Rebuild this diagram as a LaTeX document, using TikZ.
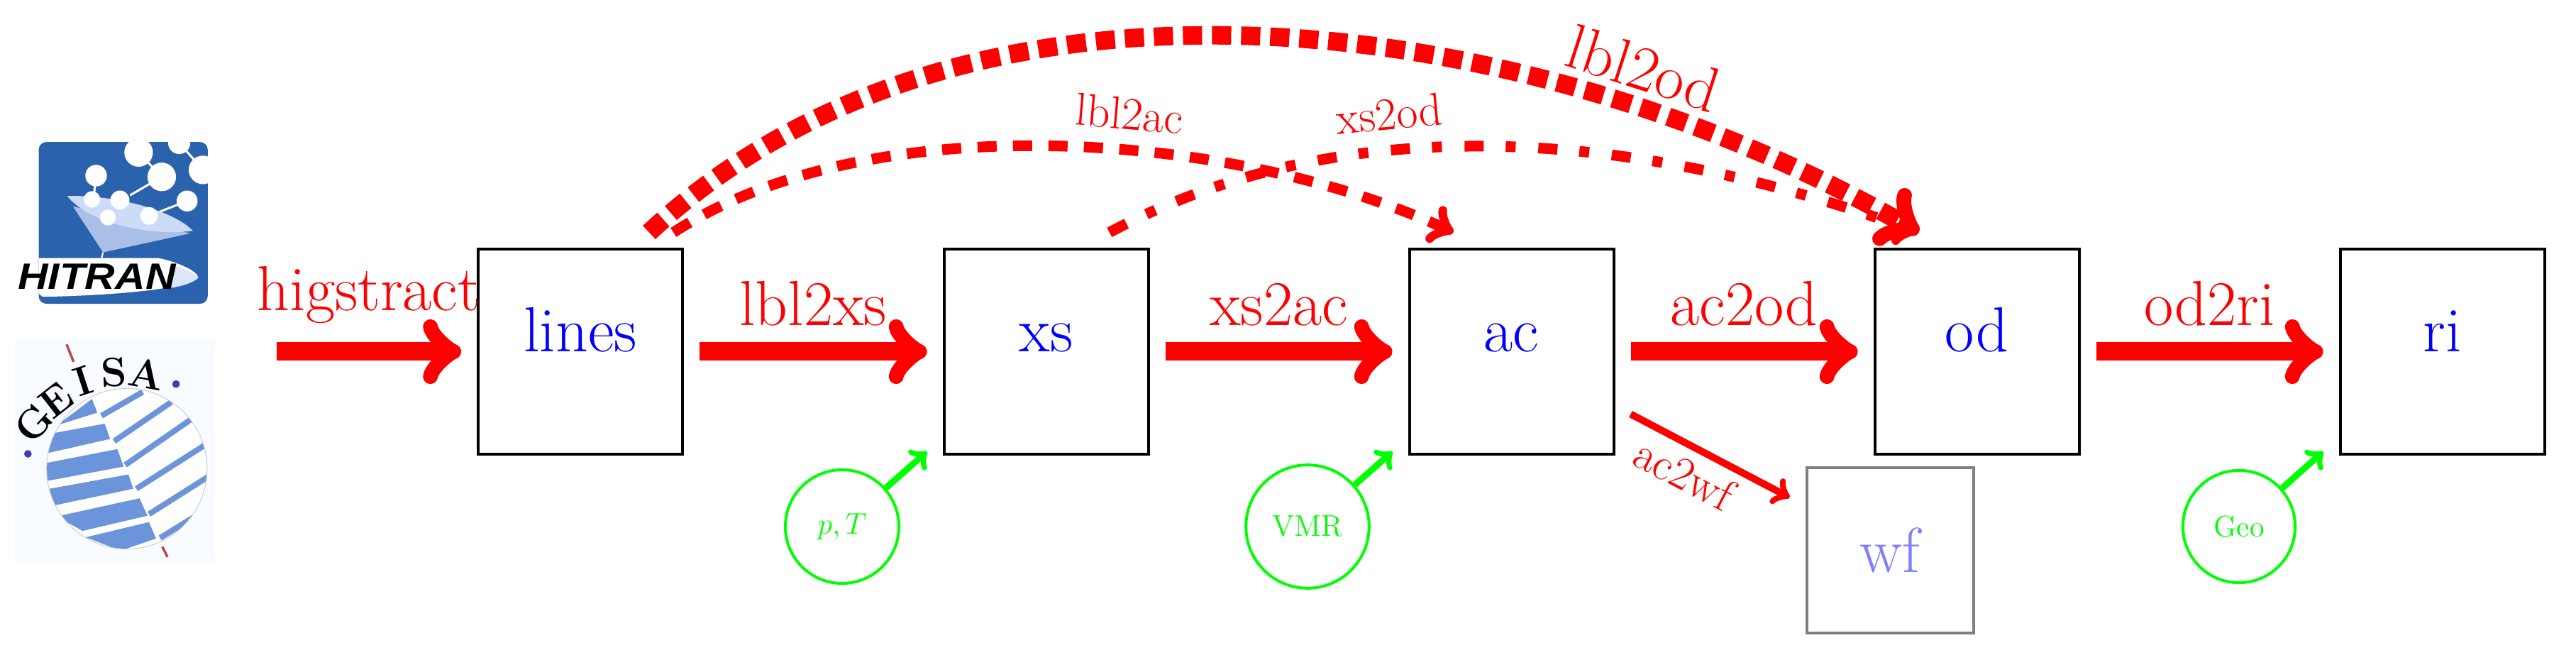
\documentclass[tikz,border=0pt]{standalone}
\usepackage{fontspec}
\newfontfamily\logofont{Liberation Sans}
\newcommand{\bigtxt}{\fontsize{25.5}{27}\selectfont}
\newcommand{\midtxt}{\fontsize{18.5}{20}\selectfont}
\newcommand{\smalltxt}{\fontsize{12}{14}\selectfont}
\definecolor{hitblue}{HTML}{2B62AE}
\definecolor{hitpale}{HTML}{CCDBF8}
\definecolor{hitcone}{HTML}{A9BFE8}
\definecolor{geisabg}{HTML}{F8FBFF}
\definecolor{geisablue}{HTML}{6C94DA}
\tikzset{
  stage/.style={draw, line width=0.04cm, minimum size=2.88cm, outer sep=0.24cm, text=blue, font=\bigtxt, text height=0.5cm, text depth=0.5cm},
  extra/.style={draw=gray, line width=0.04cm, minimum width=2.35cm, minimum height=2.33cm, outer sep=0.24cm, text=blue!50, font=\bigtxt},
  input/.style={draw=green, circle, line width=0.04cm, inner sep=8.4pt, text=green, font=\smalltxt},
  feed/.style={->, green, line width=0.09cm},
  flow/.style={->, red, line width=0.26cm},
  skip/.style={->, red, line width=0.15cm},
  flowtxt/.style={text=red, font=\bigtxt, text depth=0pt},
  skiptxt/.style={text=red, font=\midtxt, text depth=0pt}
}
\begin{document}
\begin{tikzpicture}
      \useasboundingbox (0, 0) rectangle (36.31, 9.29);
      % HITRAN logo
      \begin{scope}[shift={(0, 7.79)}, x=0.004464cm, y=-0.004464cm]
        \fill[white] (47, 105) rectangle (678, 625);
        \fill[hitblue, rounded corners=0.11cm] (122, 112) rectangle (655, 622);
        \begin{scope}
          \clip (122, 112) rectangle (655, 622);
          \foreach \cx/\cy/\cr in {437/145/45, 565/115/35, 640/200/45, 303/218/34, 510/222/45, 590/298/33}
            \fill[white] (\cx, \cy) circle (\cr);
        \end{scope}
        \draw[white, line width=0.03cm] (303, 218) -- (295, 290) (510, 222) -- (410, 280) (470, 345) -- (590, 298) (437, 145) -- (510, 222) (565, 115) -- (640, 200);
        \fill[hitcone] (230, 315) -- (325, 460) -- (600, 400) -- cycle;
        \fill[hitpale] (212, 282) .. controls (400, 280) and (560, 340) .. (608, 392) .. controls (480, 410) and (280, 370) .. (212, 282);
        \draw[white, line width=0.02cm] (325, 460) -- (320, 480);
        \foreach \cx/\cy/\cr in {290/293/26, 378/295/30, 470/345/28, 340/350/25}
          \fill[white] (\cx, \cy) circle (\cr);
        \fill[white] (122, 478) -- (500, 478) .. controls (560, 490) and (625, 520) .. (625, 540) .. controls (600, 570) and (400, 595) .. (135, 600) -- (122, 590) -- cycle;
        \fill[hitpale!70] (550, 503) .. controls (590, 515) and (625, 530) .. (625, 540) .. controls (610, 555) and (580, 565) .. (540, 572) -- cycle;
        \node[xscale=1.14, text=black, inner sep=0pt, font=\logofont\bfseries\itshape\fontsize{14.7}{16}\selectfont] (hitran) at (305, 537) {HITRAN};
      \end{scope}
      % GEISA logo
      \begin{scope}[shift={(0, 7.79)}, x=0.004464cm, y=-0.004464cm]
        \fill[geisabg] (47, 732) rectangle (678, 1445);
        \draw[fill=white, draw=black!20, line width=0.01cm] (400, 1142) circle (253);
        \begin{scope}
          \clip (400, 1142) circle (252);
          % wide bands left of the seam
          \fill[geisablue] (180, 1005) -- (290, 922) -- (307, 965) -- cycle;
          \fill[geisablue] (140, 1035) -- (330, 1000) -- (347, 1048) -- (140, 1095) -- cycle;
          \fill[geisablue] (140, 1125) -- (370, 1080) -- (390, 1135) -- (140, 1182) -- cycle;
          \fill[geisablue] (140, 1208) -- (405, 1160) -- (420, 1205) -- (150, 1262) -- cycle;
          \fill[geisablue] (180, 1292) -- (440, 1235) -- (465, 1290) -- (260, 1338) -- cycle;
          \fill[geisablue] (270, 1358) -- (470, 1310) -- (492, 1362) -- (380, 1400) -- cycle;
          % narrow bands right of it
          \foreach \ax/\ay/\bx/\by in {320/975/450/900, 360/1055/540/932, 395/1130/600/988, 430/1205/645/1068, 470/1285/655/1168, 505/1360/610/1295}
            \draw[geisablue, line width=0.08cm] (\ax, \ay) -- (\bx, \by);
        \end{scope}
        \foreach \lx/\ly/\lr/\lt in {108/998/48/G, 178/926/38/E, 262/866/18/I, 360/838/3/S, 462/842/-10/A}
          \node[rotate=\lr, text=black, inner sep=0pt, font=\bfseries\fontsize{16.5}{18}\selectfont] (geisa\lt) at (\lx, \ly) {\lt};
        \fill[black!20!blue!50!gray] (555, 875) circle (12) (88, 1095) circle (12);
        \draw[red!60!black!70!white, line width=0.035cm] (210, 750) -- (232, 805) (512, 1388) -- (528, 1420);
      \end{scope}
      % Stages
      \node[stage] (lines) at (8.18, 4.335) {lines};
      \node[stage] (xs) at (14.745, 4.335) {xs};
      \node[stage] (ac) at (21.305, 4.335) {ac};
      \node[stage] (od) at (27.865, 4.335) {od};
      \node[stage] (ri) at (34.425, 4.335) {ri};
      \node[extra] (wf) at (26.64, 1.54) {wf};
      \coordinate (db) at (3.90, 4.335);
      % Inputs
      \node[input] (pT) at (11.87, 1.87) {$p,T$};
      \node[input, inner sep=7.6pt] (VMR) at (18.43, 1.87) {VMR};
      \node[input] (Geo) at (31.56, 1.87) {Geo};
      \draw[feed] (pT) -- (xs.220);
      \draw[feed] (VMR) -- (ac.220);
      \draw[feed] (Geo) -- (ri.220);
      % Main chain
      \draw[flow] (db) -- node[midway, above=0.33cm, flowtxt] (higstract) {higstract} (lines);
      \draw[flow] (lines) -- node[midway, above=0.12cm, flowtxt] (lbl2xs) {lbl2xs} (xs);
      \draw[flow] (xs) -- node[midway, above=0.12cm, flowtxt] (xs2ac) {xs2ac} (ac);
      \draw[flow] (ac) -- node[midway, above=0.12cm, flowtxt] (ac2od) {ac2od} (od);
      \draw[flow] (od) -- node[midway, above=0.12cm, flowtxt] (od2ri) {od2ri} (ri);
      % Shortcuts
      \draw[flow, dash pattern=on 0.27cm off 0.14cm] (lines.60) to[out=43, in=150, looseness=0.89] node[pos=0.77, above, sloped, flowtxt] (lbl2od) {lbl2od} (od.116);
      \draw[skip, dash pattern=on 0.27cm off 0.23cm] (lines.52) to[out=33, in=155, looseness=0.78] node[pos=0.58, above=0.1cm, sloped, skiptxt] (lbl2ac) {lbl2ac} (ac.116);
      \draw[skip, dash pattern=on 0.27cm off 0.31cm on 0.14cm off 0.32cm] (xs.62) to[out=28, in=160, looseness=0.89] node[pos=0.36, above=0.1cm, sloped, skiptxt] (xs2od) {xs2od} (od.116);
      \draw[->, red, line width=0.1cm] (ac) -- node[pos=0.42, below, sloped, skiptxt] (ac2wf) {ac2wf} (wf);
    \end{tikzpicture}
\end{document}
